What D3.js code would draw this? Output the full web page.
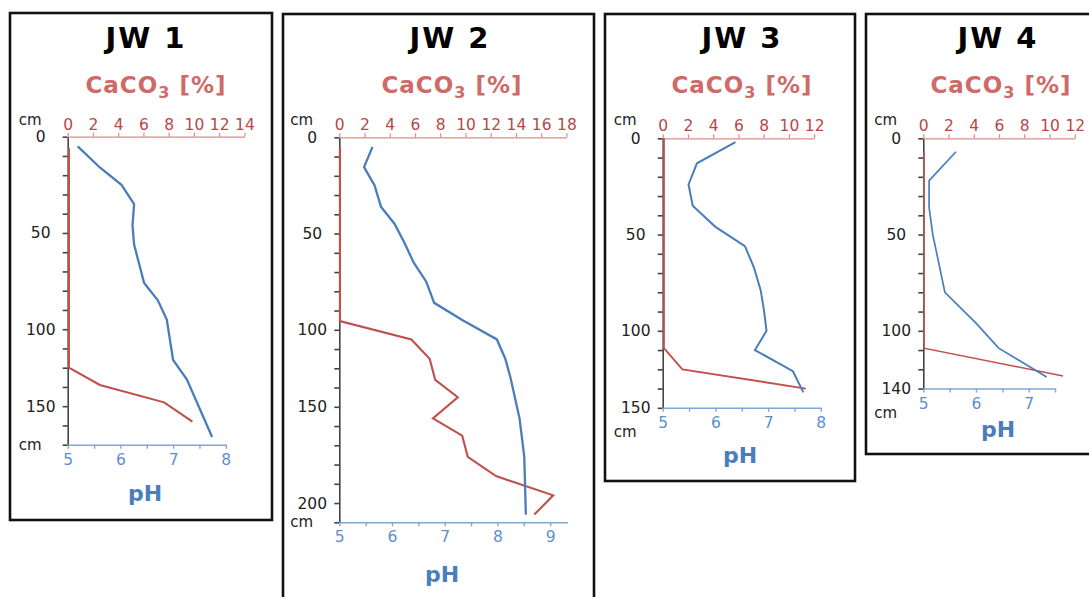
<!DOCTYPE html>
<html>
<head>
<meta charset="utf-8">
<script src="https://cdn.jsdelivr.net/npm/d3@7"></script>
<style>
  body { margin: 0; background: #fff; }
  text { font-family: "DejaVu Sans", Verdana, sans-serif; }
</style>
</head>
<body>
<div id="chart"></div>
<script>
// profile data (depth in cm)
const titles = ["JW 1", "JW 2", "JW 3", "JW 4"];

const ph1Depth = [5, 16, 25, 35, 46, 56, 76, 85, 95, 116, 126, 156];
const ph1 = [5.19, 5.61, 6.02, 6.26, 6.23, 6.26, 6.45, 6.71, 6.88, 7.0, 7.26, 7.74];
const ca1Depth = [6, 120, 129, 138, 148];
const ca1 = [0.1, 0.1, 2.55, 7.64, 9.88];

const ph2Depth = [5, 15.5, 25, 36, 45, 55, 65, 75, 86, 95, 105, 115, 125, 146, 166, 196];
const ph2 = [5.63, 5.47, 5.67, 5.79, 6.05, 6.24, 6.41, 6.65, 6.8, 7.34, 7.99, 8.15, 8.25, 8.42, 8.51, 8.54];
const ca2Depth = [5, 95.5, 105, 115, 126, 135, 146, 155, 166, 176, 186, 196];
const ca2 = [0.05, 0.05, 5.71, 7.16, 7.6, 9.39, 7.42, 9.74, 10.18, 12.42, 16.95, 15.45];

const ph3Depth = [2, 13, 24, 35, 46, 56, 67, 79, 89, 100, 110, 121, 132];
const ph3 = [6.38, 5.65, 5.49, 5.57, 6.0, 6.56, 6.73, 6.86, 6.92, 6.97, 6.75, 7.47, 7.67];
const ca3Depth = [0, 109, 120, 130];
const ca3 = [0.1, 0.1, 1.56, 11.34];

const ph4Depth = [7, 22, 36, 50, 80, 96, 109, 124];
const ph4 = [5.62, 5.11, 5.11, 5.18, 5.41, 6.0, 6.43, 7.34];
const ca4Depth = [7, 109, 123.5];
const ca4 = [0.05, 0.05, 11.07];

// depth axis: where the labels sit and what they say
const depthLabelPos = [[0, 50, 100, 140], [0, 50, 100, 140, 190], [0, 50, 100, 140], [0, 50, 100, 130]];
const depthLabelText = [["0", "50", "100", "150"], ["0", "50", "100", "150", "200"], ["0", "50", "100", "150"], ["0", "50", "100", "140"]];
const depthMax = [160, 200, 140, 130];
const caMax = [14, 18, 12, 12];
const phMax = [8, 9.33, 8, 7.5];

// layout
const boxes = [[10, 13, 262, 507], [283, 14, 311, 600], [605, 14, 250, 467], [866, 14, 240, 440]];
const origin = [[67.7, 136.7], [339.3, 137.3], [662.7, 138.3], [923.3, 138.3]];
const titleX = [146, 450, 742, 998];
const caLabelX = [156, 452, 742, 1001];
const phLabelX = [145, 442, 740, 998];
const phLabelGap = [56, 60, 55, 48];
const cmBottomGap = [5, 5, 29, 29];
const lineW = [2.3, 2.3, 2, 1.7];

const phData = [[ph1Depth, ph1], [ph2Depth, ph2], [ph3Depth, ph3], [ph4Depth, ph4]];
const caData = [[ca1Depth, ca1], [ca2Depth, ca2], [ca3Depth, ca3], [ca4Depth, ca4]];

const pxDepth = 1.925, pxCa = 12.62, pxPh = 52.7;
const blue = "#4a7ebb", red = "#c0504d";

const svg = d3.select("#chart").append("svg")
  .attr("width", 1089)
  .attr("height", 597);

titles.forEach(function (title, i) {
  const ox = origin[i][0], oy = origin[i][1];
  const b = boxes[i];

  svg.append("rect")
    .attr("x", b[0]).attr("y", b[1])
    .attr("width", b[2]).attr("height", b[3])
    .attr("fill", "none")
    .attr("stroke", "#111")
    .attr("stroke-width", 2.6);

  const y = d3.scaleLinear().domain([0, depthMax[i]]).range([oy, oy + depthMax[i] * pxDepth]);
  const xCa = d3.scaleLinear().domain([0, caMax[i]]).range([ox, ox + caMax[i] * pxCa]);
  const xPh = d3.scaleLinear().domain([5, phMax[i]]).range([ox, ox + (phMax[i] - 5) * pxPh]);
  const bottom = y(depthMax[i]);

  const g = svg.append("g");

  // title + axis captions
  g.append("text")
    .attr("x", titleX[i]).attr("y", 47.5)
    .attr("text-anchor", "middle")
    .style("font-size", "29px").style("font-weight", "bold")
    .style("letter-spacing", "2px")
    .attr("fill", "#000")
    .text(title);

  const ca = g.append("text")
    .attr("x", caLabelX[i]).attr("y", 93)
    .attr("text-anchor", "middle")
    .style("font-size", "23px").style("font-weight", "bold")
    .style("letter-spacing", "1px")
    .attr("fill", "#cf6a68");
  ca.append("tspan").text("CaCO");
  ca.append("tspan").attr("dy", 5).style("font-size", "16px").text("3");
  ca.append("tspan").attr("dy", -5).text(" [%]");

  g.append("text")
    .attr("x", phLabelX[i]).attr("y", bottom + phLabelGap[i])
    .attr("text-anchor", "middle")
    .style("font-size", "22px").style("font-weight", "bold")
    .attr("fill", blue)
    .text("pH");

  g.append("text")
    .attr("x", ox - 49).attr("y", 125)
    .style("font-size", "15px").attr("fill", "#222")
    .text("cm");
  g.append("text")
    .attr("x", ox - 49).attr("y", bottom + cmBottomGap[i])
    .style("font-size", "15px").attr("fill", "#222")
    .text("cm");

  // depth axis
  const labels = {};
  depthLabelPos[i].forEach(function (p, k) { labels[p] = depthLabelText[i][k]; });
  const yAxis = g.append("g")
    .attr("transform", "translate(" + ox + ",0)")
    .call(d3.axisLeft(y)
      .tickValues(d3.range(0, depthMax[i] + 1, 10))
      .tickSize(5).tickSizeOuter(0)
      .tickFormat(function (d) { return labels[d] || ""; }));
  yAxis.selectAll("path, line").attr("stroke", "#444").attr("stroke-width", 1.6);
  yAxis.selectAll("text")
    .attr("x", -27).attr("text-anchor", "middle")
    .style("font-size", "15.5px").attr("fill", "#222");

  // CaCO3 axis on top
  const topAxis = g.append("g")
    .attr("transform", "translate(0," + oy + ")")
    .call(d3.axisTop(xCa)
      .tickValues(d3.range(0, caMax[i] + 1, 2))
      .tickSize(4).tickSizeOuter(0).tickPadding(3));
  topAxis.selectAll("path, line").attr("stroke", "#d98c8a").attr("stroke-width", 1.2);
  topAxis.selectAll("text").style("font-size", "15.5px").attr("fill", "#b8474a");

  // pH axis at the bottom
  const botAxis = g.append("g")
    .attr("transform", "translate(0," + bottom + ")")
    .call(d3.axisBottom(xPh)
      .tickValues(d3.range(5, phMax[i] + 0.01, 0.5))
      .tickSize(4).tickSizeOuter(0).tickPadding(5)
      .tickFormat(function (d) { return d % 1 === 0 ? d : ""; }));
  botAxis.selectAll("path, line").attr("stroke", "#7fa6d8").attr("stroke-width", 1.4);
  botAxis.selectAll("text").style("font-size", "15.5px").attr("fill", "#5e8fcf");

  // profiles
  const caLine = d3.line()
    .x(function (d) { return xCa(d[1]); })
    .y(function (d) { return y(d[0]); });
  const phLine = d3.line()
    .x(function (d) { return xPh(d[1]); })
    .y(function (d) { return y(d[0]); });

  g.append("path")
    .datum(d3.zip(caData[i][0], caData[i][1]))
    .attr("d", caLine)
    .attr("fill", "none")
    .attr("stroke", red)
    .attr("stroke-width", lineW[i] - 0.2);

  g.append("path")
    .datum(d3.zip(phData[i][0], phData[i][1]))
    .attr("d", phLine)
    .attr("fill", "none")
    .attr("stroke", blue)
    .attr("stroke-width", lineW[i]);
});
</script>
</body>
</html>
